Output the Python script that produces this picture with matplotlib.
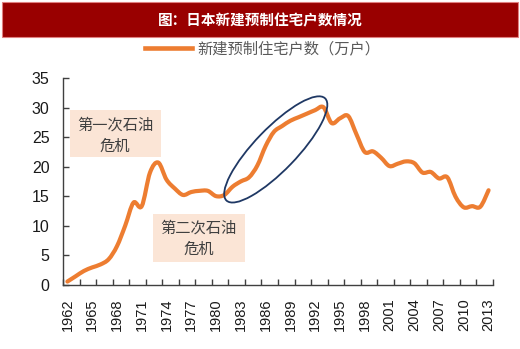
import numpy as np
import matplotlib.pyplot as plt
from matplotlib.patches import Rectangle, Ellipse, PathPatch
from matplotlib.path import Path
from matplotlib.lines import Line2D
from matplotlib.transforms import Affine2D

# anni e numero di nuove case prefabbricate (10k unità)
anni = list(range(1962, 2014))
valori = [0.5, 1.4, 2.3, 2.9, 3.4, 4.3, 6.5, 10.0, 13.9, 13.3,
          19.0, 20.7, 17.8, 16.3, 15.2, 15.7, 15.9, 15.9, 15.0, 15.2,
          16.6, 17.5, 18.2, 20.2, 23.5, 25.9, 26.9, 27.8, 28.4, 29.0,
          29.6, 30.1, 27.4, 28.2, 28.6, 25.5, 22.5, 22.6, 21.5, 20.1,
          20.5, 20.9, 20.6, 19.0, 19.1, 18.0, 18.2, 14.9, 13.1, 13.3,
          13.2, 16.0]
etichette = [str(a) for a in anni[::3]]

titolo = '图：日本新建预制住宅户数情况'
serie = '新建预制住宅户数（万户）'
nota1 = '第一次石油\n危机'
nota2 = '第二次石油\n危机'

cjk = ['Noto Sans CJK SC', 'DejaVu Sans']
plt.rcParams['font.family'] = ['Liberation Sans', 'Noto Sans CJK SC']
arancio = '#ED7D31'

fig = plt.figure(figsize=(5.2, 3.49), dpi=100)
ax = fig.add_axes([0.1217, 0.1848, 0.8258, 0.5908])

# linea smussata come in Excel (bezier attraverso i punti)
x = np.arange(len(anni), dtype=float)
y = np.array(valori)
pts = np.column_stack([x, y])
verts = [pts[0]]
codes = [Path.MOVETO]
n = len(pts)
for i in range(n - 1):
    p0 = pts[max(i - 1, 0)]
    p1 = pts[i]
    p2 = pts[i + 1]
    p3 = pts[min(i + 2, n - 1)]
    c1 = p1 + (p2 - p0) / 6
    c2 = p2 - (p3 - p1) / 6
    verts += [c1, c2, p2]
    codes += [Path.CURVE4] * 3
ax.add_patch(PathPatch(Path(verts, codes), fill=False, edgecolor=arancio,
                       lw=3.0, capstyle='round', joinstyle='round', zorder=3))

ax.set_xlim(-0.5, len(anni) - 0.5)
ax.set_ylim(0, 35)
ax.set_yticks(range(0, 36, 5))
ax.set_xticks(x[::3])
ax.set_xticklabels(etichette, rotation=90)
ax.set_xticks(np.arange(-0.5, len(anni), 2), minor=True)

for s in ['top', 'right']:
    ax.spines[s].set_visible(False)
for s in ['left', 'bottom']:
    ax.spines[s].set_color('#404040')
    ax.spines[s].set_linewidth(1.0)
ax.tick_params(axis='y', direction='in', length=4, width=1, color='#404040',
               labelsize=11.5, pad=10, labelcolor='#1a1a1a')
ax.tick_params(axis='x', which='major', length=0, labelsize=10.5, pad=10,
               labelcolor='#1a1a1a')
ax.tick_params(axis='x', which='minor', direction='in', length=4, width=1,
               color='#404040')

# riquadri delle crisi petrolifere
ax.add_patch(Rectangle((0.31, 21.6), 11.0, 8.0, facecolor='#FBE5D6',
                       edgecolor='none', zorder=1))
ax.text(5.76, 25.3, nota1, ha='center', va='center', fontsize=11,
        color='#404040', family=cjk, linespacing=1.3, zorder=2)
ax.add_patch(Rectangle((10.4, 3.86), 11.1, 8.1, facecolor='#FBE5D6',
                       edgecolor='none', zorder=1))
ax.text(15.9, 7.8, nota2, ha='center', va='center', fontsize=11,
        color='#404040', family=cjk, linespacing=1.3, zorder=2)

# ellisse in pixel
cx, cy = ax.transData.transform((25.23, 22.93))
ell = Ellipse((0, 0), 142, 42, angle=46, fill=False, edgecolor='#1F3864',
              lw=1.3, transform=Affine2D().translate(cx, cy), zorder=4)
ax.add_artist(ell)

# banda del titolo
fig.patches.append(Rectangle((2 / 520, 1 - 37 / 349), 516 / 520, 35 / 349,
                             transform=fig.transFigure, facecolor='#990000',
                             edgecolor='#E08080', lw=0.8))
fig.text(0.5, 1 - 20 / 349, titolo, ha='center', va='center', color='white',
         fontsize=10.5, fontweight='bold', family=cjk)

maniglia = Line2D([], [], color=arancio, lw=3.3)
fig.legend([maniglia], [serie], loc='center', bbox_to_anchor=(0.505, 1 - 49 / 349),
           frameon=False, handlelength=3.1, handletextpad=0.3,
           prop={'family': cjk, 'size': 11}, labelcolor='#595959')

plt.savefig('out.png', dpi=100)
